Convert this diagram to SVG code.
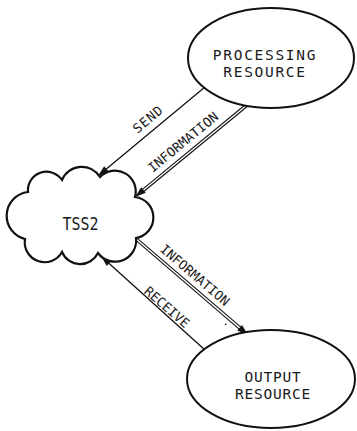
<svg xmlns="http://www.w3.org/2000/svg" xmlns:xlink="http://www.w3.org/1999/xlink" width="357" height="431" viewBox="0 0 357 431">
  <style>
    .node { fill: #fff; stroke: #111; stroke-width: 2; }
    .cloud { fill: #fff; stroke: #111; stroke-width: 2.2; stroke-linejoin: miter; }
    .label { font-family: "DejaVu Sans Mono", "Liberation Mono", monospace; fill: #1a1a1a; text-anchor: middle; }
    .node-text { font-size: 14.5px; }
    .edge-text { font-size: 13px; }
    .wire { fill: none; stroke: #111; stroke-width: 1.3; }
    .pipe-outer { fill: none; stroke: #111; stroke-width: 3.6; }
    .pipe-inner { fill: none; stroke: #fff; stroke-width: 1.4; }
    .head { fill: #111; }
  </style>
  <defs>
    <!-- arrowhead with its tip at the origin, pointing along +x -->
    <path id="ah" class="head" d="M0,0 L-11,-3.6 L-11,3.6 Z"/>
  </defs>

  <rect width="357" height="431" fill="#fff"/>

  <g id="connectors">
    <!-- SEND: processing resource to TSS2 -->
    <g id="edge-send">
      <path class="wire" d="M205,87 L101.8,172.8"/>
      <use xlink:href="#ah" href="#ah" transform="translate(98,176) rotate(140.25)"/>
      <text class="label edge-text" transform="translate(148,119) rotate(-40)" y="4.7" letter-spacing="1">SEND</text>
    </g>
    <!-- INFORMATION: processing resource to TSS2 (double line) -->
    <g id="edge-info-in">
      <path class="pipe-outer" d="M247,105 L142,191.3"/>
      <path class="pipe-inner" d="M247,105 L142,191.3"/>
      <use xlink:href="#ah" href="#ah" transform="translate(135,197) rotate(140.6)"/>
      <text class="label edge-text" transform="translate(183,142) rotate(-39.5)" y="4.7">INFORMATION</text>
    </g>
    <!-- INFORMATION: TSS2 to output resource (double line) -->
    <g id="edge-info-out">
      <path class="pipe-outer" d="M135,238 L241.2,329.1"/>
      <path class="pipe-inner" d="M135,238 L241.2,329.1"/>
      <use xlink:href="#ah" href="#ah" transform="translate(248,335) rotate(40.6)"/>
      <text class="label edge-text" transform="translate(195,275) rotate(40.5)" y="4.7">INFORMATION</text>
      <circle cx="225.7" cy="324.3" r="0.9" fill="#222"/>
    </g>
    <!-- RECEIVE: output resource to TSS2 -->
    <g id="edge-receive">
      <path class="wire" d="M205,350 L104.7,259.4"/>
      <use xlink:href="#ah" href="#ah" transform="translate(101,256) rotate(-137.9)"/>
      <text class="label edge-text" transform="translate(167,307) rotate(41)" y="4.7">RECEIVE</text>
    </g>
  </g>

  <g id="node-processing">
    <ellipse class="node" cx="271" cy="58" rx="83" ry="50"/>
    <text class="label node-text" x="265" y="59.5" letter-spacing="1.7">PROCESSING</text>
    <text class="label node-text" x="265" y="76.5" letter-spacing="1.7">RESOURCE</text>
  </g>

  <g id="node-tss2">
    <path class="cloud" d="M28,192 A18.6,18.6 0 0 1 62,180 A21.4,21.4 0 0 1 100,177 A20.8,20.8 0 0 1 135,197 A20.7,20.7 0 0 1 136,238 A21.1,21.1 0 0 1 98,253 A19.8,19.8 0 0 1 62,252 A19.9,19.9 0 0 1 25,239 A23.9,23.9 0 0 1 28,192 Z"/>
    <text class="label" x="80.5" y="230" font-size="17" textLength="36" lengthAdjust="spacingAndGlyphs">TSS2</text>
  </g>

  <g id="node-output">
    <ellipse class="node" cx="271" cy="379" rx="84" ry="49"/>
    <text class="label node-text" x="273" y="381.5" letter-spacing="0.8">OUTPUT</text>
    <text class="label node-text" x="273" y="398.5" letter-spacing="0.8">RESOURCE</text>
  </g>
</svg>
